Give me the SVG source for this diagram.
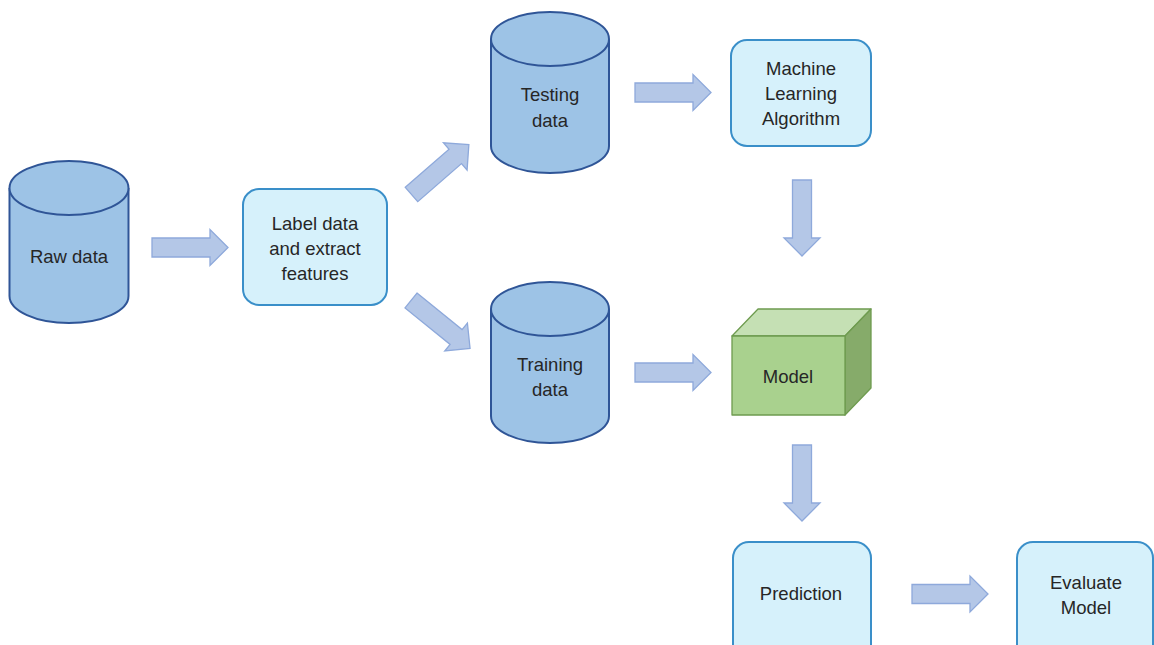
<svg xmlns="http://www.w3.org/2000/svg" width="1154" height="645" viewBox="0 0 1154 645">
<defs>
<style>
.cyl{fill:#9dc3e6;stroke:#2f5597;stroke-width:2}
.box{fill:#d6f1fb;stroke:#3a8fc9;stroke-width:2}
.arr{fill:#b4c7e7;stroke:#8ea9db;stroke-width:1.3;stroke-linejoin:miter}
text{font-family:"Liberation Sans",Arial,sans-serif;font-size:18.5px;fill:#262626;text-anchor:middle;dominant-baseline:central}
</style>
<path id="arrow" d="M0,-9.5 H58 V-18 L76,0 L58,18 V9.5 H0 Z"/>
</defs>
<rect width="1154" height="645" fill="#ffffff"/>
<g id="connectors" class="arr">
<use href="#arrow" transform="translate(152,247.5)"/>
<use href="#arrow" transform="translate(411.5,194.5) rotate(-41)"/>
<use href="#arrow" transform="translate(411,300.5) rotate(39)"/>
<use href="#arrow" transform="translate(635,92.5)"/>
<use href="#arrow" transform="translate(635,372.5)"/>
<use href="#arrow" transform="translate(802,180) rotate(90)"/>
<use href="#arrow" transform="translate(802,445) rotate(90)"/>
<use href="#arrow" transform="translate(912,594)"/>
</g>
<g id="raw-data">
<path class="cyl" d="M9.5,188 V296 A59.5,27 0 0 0 128.5,296 V188"/>
<ellipse class="cyl" cx="69" cy="188" rx="59.5" ry="27"/>
<text x="69" y="256">Raw data</text>
</g>
<g id="label-data">
<rect class="box" x="243" y="189" width="144" height="116" rx="16"/>
<text x="315" y="223">Label data</text>
<text x="315" y="248">and extract</text>
<text x="315" y="273">features</text>
</g>
<g id="testing-data">
<path class="cyl" d="M491,39 V146 A59,27 0 0 0 609,146 V39"/>
<ellipse class="cyl" cx="550" cy="39" rx="59" ry="27"/>
<text x="550" y="94">Testing</text>
<text x="550" y="120">data</text>
</g>
<g id="training-data">
<path class="cyl" d="M491,309 V416 A59,27 0 0 0 609,416 V309"/>
<ellipse class="cyl" cx="550" cy="309" rx="59" ry="27"/>
<text x="550" y="364">Training</text>
<text x="550" y="389">data</text>
</g>
<g id="ml-algorithm">
<rect class="box" x="731" y="40" width="140" height="106" rx="16"/>
<text x="801" y="68">Machine</text>
<text x="801" y="93">Learning</text>
<text x="801" y="118">Algorithm</text>
</g>
<g id="model" stroke="#6e9b4f" stroke-width="1.3" stroke-linejoin="round">
<path d="M732,336 L758,309 H871 L845,336 Z" fill="#c5e0b4"/>
<path d="M845,336 L871,309 V388 L845,415 Z" fill="#86ab6a"/>
<rect x="732" y="336" width="113" height="79" fill="#a9d18e"/>
<text x="788" y="376" stroke="none">Model</text>
</g>
<g id="prediction">
<rect class="box" x="733" y="542" width="138" height="130" rx="16"/>
<text x="801" y="593">Prediction</text>
</g>
<g id="evaluate-model">
<rect class="box" x="1017" y="542" width="136" height="130" rx="16"/>
<text x="1086" y="582">Evaluate</text>
<text x="1086" y="607">Model</text>
</g>
</svg>
